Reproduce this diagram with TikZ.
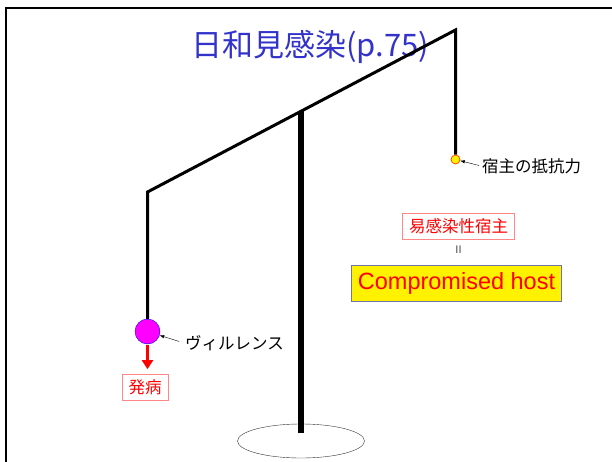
\documentclass[tikz,border=0pt]{standalone}
\usepackage{fontspec}
\setmainfont{Liberation Sans}
\newfontfamily\jpfont{Noto Sans CJK JP}
\usetikzlibrary{arrows.meta}
\usetikzlibrary{positioning}
\usetikzlibrary{shapes.geometric}
\tikzset{>={Latex[length=1.6mm,width=1.2mm]}}
\definecolor{titleblue}{RGB}{51,51,204}
\definecolor{boxpink}{RGB}{255,135,135}
\definecolor{hostedge}{RGB}{115,115,165}
\definecolor{virmagenta}{RGB}{255,0,255}

\begin{document}
\begin{tikzpicture}[x=1pt,y=-1pt,
  bar/.style = {line width=3pt},
  jp/.style = {font=\jpfont\fontsize{16.5}{18}\selectfont},
  tag/.style = {jp, draw=boxpink, text=red, inner xsep=6.5pt, inner ysep=5.5pt}]
\useasboundingbox (0,0) rectangle (612,462);
\draw[line width=2pt] (6,462) -- (6,8.3) -- (612,8.3);

\node[text=titleblue, font=\jpfont\fontsize{31}{34}\selectfont] (title) at (310,47) {日和見感染(p.75)};

\coordinate (top) at (455.5,30);
\coordinate (left) at (147.5,192);
\coordinate (pivot) at (301,111.3);
\coordinate (foot) at (301,433);
\node[draw=black!80, ellipse, minimum width=127pt, minimum height=34pt, inner sep=0pt] (base) at (301,441) {};

\node[circle, draw=blue, fill=virmagenta, minimum size=25pt, inner sep=0pt] (vir) at (147.5,331.5) {};
\node[circle, draw=red!70!yellow, fill=yellow, line width=0.8pt, minimum size=9pt, inner sep=0pt] (res) at (455.5,159.5) {};

\draw[bar] (vir) -- (left) -- (top) -- (res);
\draw[line width=5.3pt] (pivot) -- (foot);

\node[jp, anchor=west, inner sep=1pt] (virtext) at (184,343) {ヴィルレンス};
\draw[->, thin, shorten <=5pt] (virtext.west) -- (vir);
\node[jp, anchor=west, inner sep=1pt] (restext) at (481,166) {宿主の抵抗力};
\draw[->, thin, shorten <=2pt] (restext.west) -- (res);

\node[tag] (ill) at (145,387.5) {発病};
\draw[red, line width=3.5pt, -{Triangle[length=9pt,width=11pt]}, shorten <=1pt, shorten >=5pt] (vir.south) -- (vir.south |- ill.north);

\node[tag] (sus) at (458.5,226) {易感染性宿主};
\node[font=\fontsize{11}{12}\selectfont, text=black!70, below=3pt of sus] (eq) {II};
\node[draw=hostedge, fill=yellow, text=red, font=\fontsize{23.5}{26}\selectfont, minimum height=35.5pt, inner xsep=6.5pt] (host) at (456.5,283) {Compromised host};
\end{tikzpicture}
\end{document}
